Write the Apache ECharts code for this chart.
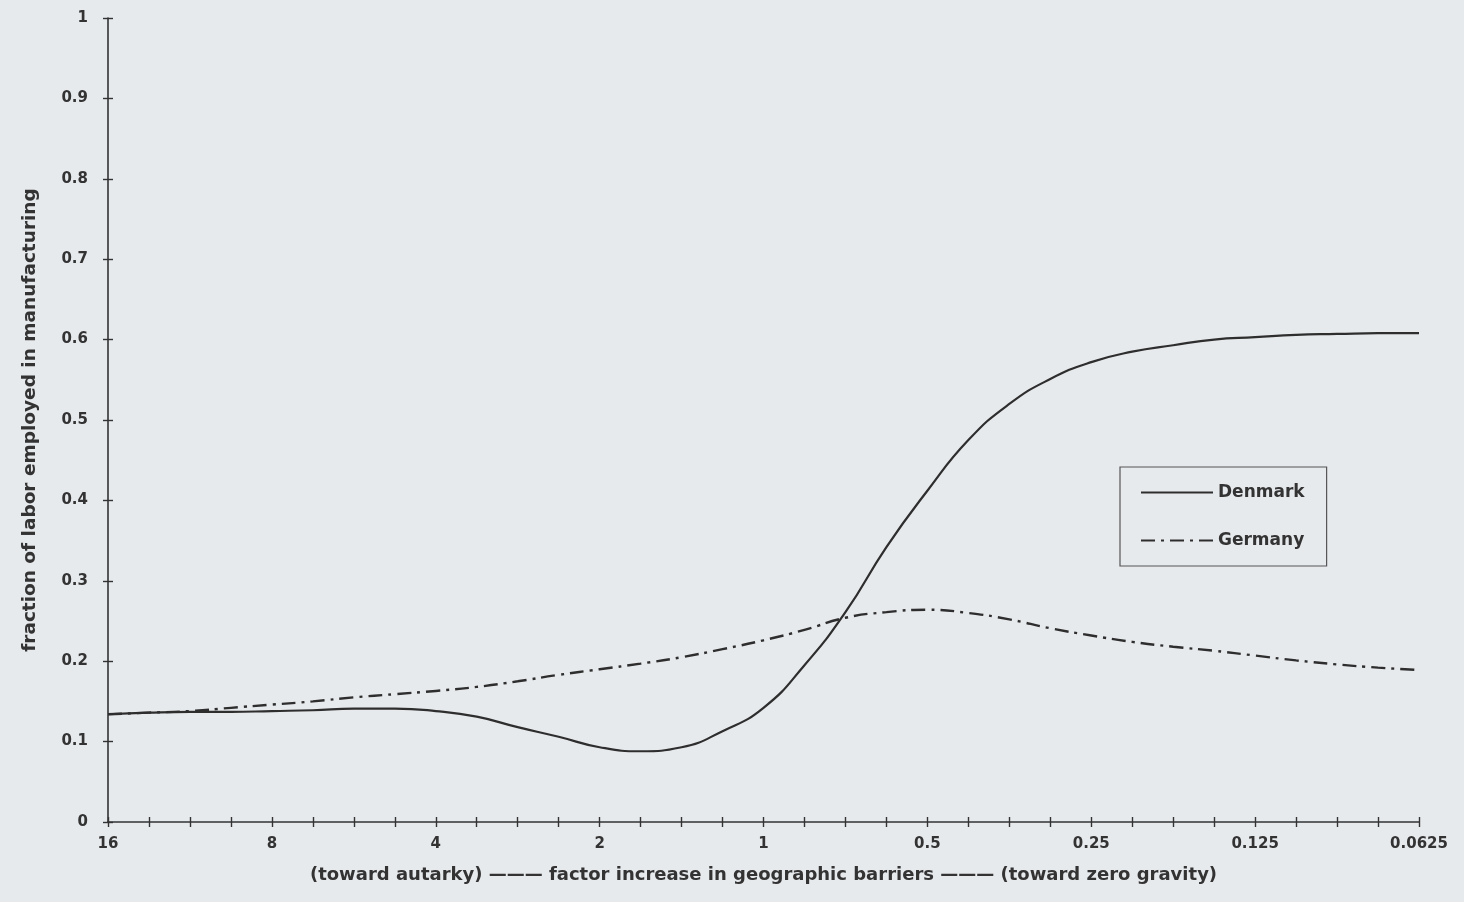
<!DOCTYPE html>
<html>
<head>
<meta charset="utf-8">
<script src="https://cdn.jsdelivr.net/npm/echarts@6/dist/echarts.min.js"></script>
<style>
html,body{margin:0;padding:0;background:#e7eaed;}
#chart{width:1464px;height:902px;}
</style>
</head>
<body>
<div id="chart"></div>
<script>
// factor increase in geographic barriers, 4 steps per halving (16 -> 0.0625)
const xLabels = ['16','','','','8','','','','4','','','','2','','','','1','','','','0.5','','','','0.25','','','','0.125','','','','0.0625'];
const denmark = [0.134,0.136,0.137,0.137,0.138,0.139,0.141,0.141,0.138,0.131,0.118,0.106,0.093,0.088,0.093,0.113,0.142,0.195,0.261,0.342,0.412,0.475,0.520,0.551,0.572,0.585,0.593,0.600,0.603,0.606,0.607,0.608,0.608];
const germany = [0.134,0.136,0.138,0.142,0.146,0.150,0.155,0.159,0.163,0.168,0.175,0.183,0.190,0.197,0.205,0.215,0.226,0.239,0.254,0.261,0.264,0.260,0.252,0.241,0.232,0.224,0.218,0.213,0.207,0.201,0.196,0.192,0.189];
const yTicks = [0,0.1,0.2,0.3,0.4,0.5,0.6,0.7,0.8,0.9,1];
const yName = 'fraction of labor employed in manufacturing';
const xName = '(toward autarky) ——— factor increase in geographic barriers ——— (toward zero gravity)';

const ink = '#333';
const font = 'DejaVu Sans, Liberation Sans, Arial, sans-serif';
const chart = echarts.init(document.getElementById('chart'));
const xCats = xLabels.map((l,i)=> l === '' ? 'p'+i : l);
chart.setOption({
  backgroundColor: '#e7eaed',
  animation: false,
  grid: {left: 108, right: 45, top: 18, bottom: 80},
  legend: {
    orient: 'vertical', left: 1120, top: 467,
    padding: [17, 22, 17, 20], itemGap: 31, itemWidth: 72, itemHeight: 14,
    borderColor: '#555', borderWidth: 1.2,
    itemStyle: {opacity: 0},
    textStyle: {fontFamily: font, fontSize: 17, fontWeight: 'bold', color: ink},
    data: ['Denmark','Germany']
  },
  xAxis: [{
    type: 'category', data: xCats, boundaryGap: false,
    axisLine: {lineStyle: {color: ink, width: 1.6}},
    axisTick: {show: true, length: 5, interval: 0, lineStyle: {color: ink, width: 1.4}},
    axisLabel: {interval: 0, margin: 15, fontFamily: font, fontSize: 15, fontWeight: 'bold', color: ink,
      formatter: v => v.charAt(0) === 'p' ? '' : v},
    splitLine: {show: false},
    name: xName, nameLocation: 'middle', nameGap: 44,
    nameTextStyle: {fontFamily: font, fontSize: 18, fontWeight: 'bold', color: ink}
  },{
    type: 'category', data: xCats, boundaryGap: false, position: 'bottom',
    axisLine: {show: false},
    axisTick: {show: true, inside: true, length: 5, interval: 0, lineStyle: {color: ink, width: 1.4}},
    axisLabel: {show: false}, splitLine: {show: false}
  }],
  yAxis: [{
    type: 'value', min: 0, max: 1, interval: 0.1,
    axisLine: {show: true, lineStyle: {color: ink, width: 1.6}},
    axisTick: {show: true, length: 5, lineStyle: {color: ink, width: 1.4}},
    axisLabel: {margin: 20, fontFamily: font, fontSize: 15, fontWeight: 'bold', color: ink,
      formatter: v => String(Math.round(v*10)/10)},
    splitLine: {show: false},
    name: yName, nameLocation: 'middle', nameGap: 68, nameRotate: 90,
    nameTextStyle: {fontFamily: font, fontSize: 18.5, fontWeight: 'bold', color: ink}
  },{
    type: 'value', min: 0, max: 1, interval: 0.1, position: 'left',
    axisLine: {show: false},
    axisTick: {show: true, inside: true, length: 5, lineStyle: {color: ink, width: 1.4}},
    axisLabel: {show: false}, splitLine: {show: false}
  }],
  series: [{
    name: 'Denmark', type: 'line', data: denmark, smooth: true, symbol: 'none',
    lineStyle: {color: '#2e2e2e', width: 2.2, type: 'solid'},
    itemStyle: {color: 'rgba(0,0,0,0)', borderWidth: 0}
  },{
    name: 'Germany', type: 'line', data: germany, smooth: true, symbol: 'none',
    lineStyle: {color: '#2e2e2e', width: 2.4, type: [14, 6, 3, 6]},
    itemStyle: {color: 'rgba(0,0,0,0)', borderWidth: 0}
  }]
});
</script>
</body>
</html>
